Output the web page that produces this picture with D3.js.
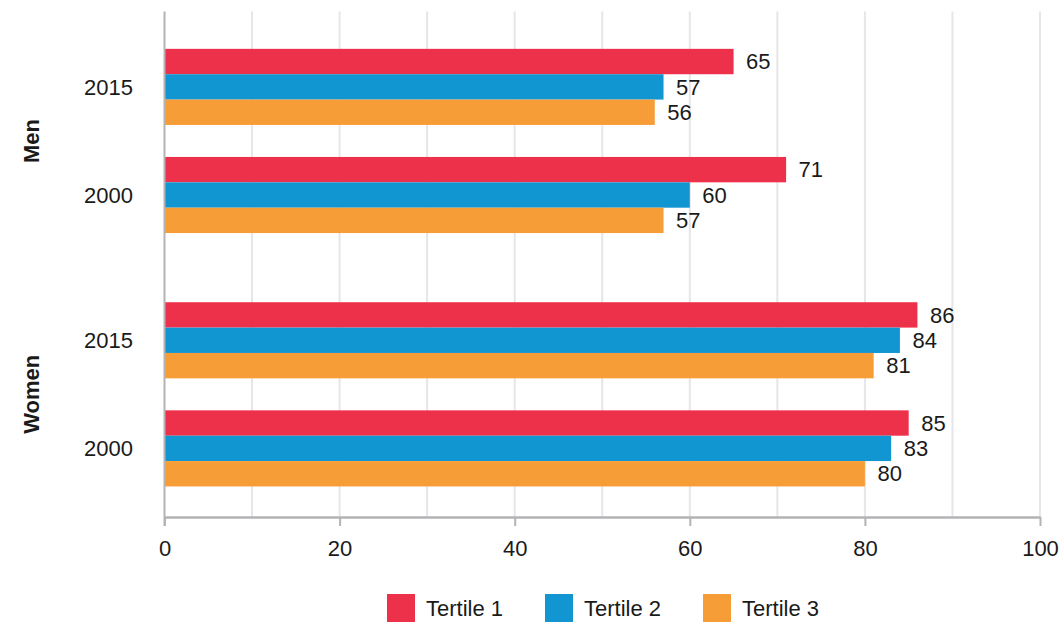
<!DOCTYPE html>
<html>
<head>
<meta charset="utf-8">
<script src="https://cdn.jsdelivr.net/npm/d3@7"></script>
<style>
  html, body { margin: 0; padding: 0; background: #fff; }
  svg { display: block; font-family: "Liberation Sans", Arial, Helvetica, sans-serif; }
</style>
</head>
<body>
<svg id="chart" width="1063" height="624"></svg>
<script>
// ---- data ----
const sections = ["Men", "Women"];
const years = ["2015", "2000"];
const seriesNames = ["Tertile 1", "Tertile 2", "Tertile 3"];
const seriesColors = ["#EE314A", "#1296D2", "#F79D38"];
// rows in order: Men 2015, Men 2000, Women 2015, Women 2000
const tertile1 = [65, 71, 86, 85];
const tertile2 = [57, 60, 84, 83];
const tertile3 = [56, 57, 81, 80];
const xTicks = [0, 20, 40, 60, 80, 100];
const gridValues = [10, 20, 30, 40, 50, 60, 70, 80, 90, 100];

const seriesValues = [tertile1, tertile2, tertile3];
const rows = [];
sections.forEach((s, si) => years.forEach((y, yi) => rows.push({ section: s, year: y, idx: si * years.length + yi })));

// ---- layout ----
const svg = d3.select("#chart");
const plotTop = 11.5, plotBottom = 517, plotLeft = 164.5, plotRight = 1040;

const x = d3.scaleLinear().domain([0, 100]).range([plotLeft, plotRight]);
const ySection = d3.scaleBand().domain(sections).range([plotTop, plotBottom])
  .paddingInner(0.273).paddingOuter(0.134).align(0.55);
const yYear = d3.scaleBand().domain(years).range([0, ySection.bandwidth()])
  .paddingInner(0.296).paddingOuter(0);
const ySeries = d3.scaleBand().domain(seriesNames).range([0, yYear.bandwidth()]).padding(0);
const color = d3.scaleOrdinal().domain(seriesNames).range(seriesColors);

const axisColor = "#b3b3b6";
const gridColor = "#e6e6e8";
const textColor = "#1a1a1a";

// grid lines
svg.append("g").selectAll("line").data(gridValues).join("line")
  .attr("x1", d => x(d)).attr("x2", d => x(d))
  .attr("y1", plotTop).attr("y2", plotBottom)
  .attr("stroke", gridColor).attr("stroke-width", 2);

// bars
const rowG = svg.append("g").selectAll("g").data(rows).join("g")
  .attr("transform", d => `translate(0,${ySection(d.section) + yYear(d.year)})`);

rowG.selectAll("rect").data(d => seriesNames.map((n, i) => ({ name: n, value: seriesValues[i][d.idx] })))
  .join("rect")
  .attr("x", x(0))
  .attr("y", d => ySeries(d.name))
  .attr("width", d => x(d.value) - x(0))
  .attr("height", ySeries.bandwidth())
  .attr("fill", d => color(d.name));

rowG.selectAll("text.val").data(d => seriesNames.map((n, i) => ({ name: n, value: seriesValues[i][d.idx] })))
  .join("text")
  .attr("class", "val")
  .attr("x", d => x(d.value) + 12.5)
  .attr("y", d => ySeries(d.name) + ySeries.bandwidth() / 2)
  .attr("dy", "0.35em")
  .attr("font-size", 22)
  .attr("fill", textColor)
  .text(d => d.value);

// year labels
rowG.append("text")
  .attr("x", 133)
  .attr("y", yYear.bandwidth() / 2)
  .attr("dy", "0.35em")
  .attr("text-anchor", "end")
  .attr("font-size", 22)
  .attr("fill", textColor)
  .text(d => d.year);

// section labels
svg.append("g").selectAll("text").data(sections).join("text")
  .attr("transform", d => `translate(39,${ySection(d) + ySection.bandwidth() / 2}) rotate(-90)`)
  .attr("text-anchor", "middle")
  .attr("font-size", 22)
  .attr("font-weight", "bold")
  .attr("fill", textColor)
  .text(d => d);

// left axis line
svg.append("line")
  .attr("x1", plotLeft).attr("x2", plotLeft)
  .attr("y1", plotTop).attr("y2", plotBottom + 9)
  .attr("stroke", axisColor).attr("stroke-width", 2);

// bottom axis
const xAxis = d3.axisBottom(x).tickValues(xTicks).tickSize(9).tickPadding(14).tickSizeOuter(0);
const gx = svg.append("g").attr("transform", `translate(0,${plotBottom})`).call(xAxis);
gx.select(".domain").attr("stroke", axisColor).attr("stroke-width", 2.5);
gx.selectAll(".tick line").attr("stroke", axisColor).attr("stroke-width", 2);
gx.selectAll(".tick text").attr("font-size", 22).attr("fill", textColor)
  .attr("font-family", "'Liberation Sans', Arial, Helvetica, sans-serif");

// legend
const legendX = [387, 545, 703];
const lg = svg.append("g").selectAll("g").data(seriesNames).join("g")
  .attr("transform", (d, i) => `translate(${legendX[i]},594)`);
lg.append("rect").attr("width", 28).attr("height", 28).attr("fill", d => color(d));
lg.append("text").attr("x", 39).attr("y", 14).attr("dy", "0.35em")
  .attr("font-size", 22).attr("fill", textColor).text(d => d);
</script>
</body>
</html>
